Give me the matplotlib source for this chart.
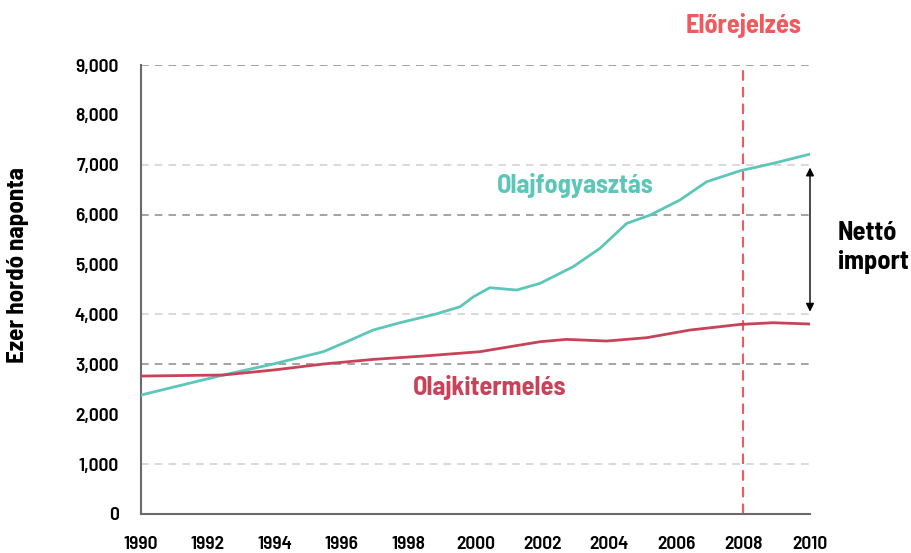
import matplotlib.pyplot as plt

# 数据
years_cons = [1990, 1992.46, 1993.95, 1995.45, 1996.15, 1996.94, 1997.74, 1998.8, 1999.54,
              1999.94, 2000.43, 2001.23, 2001.93, 2002.92, 2003.72, 2004.52, 2005.22,
              2006.11, 2006.91, 2007.91, 2008.9, 2010]
consumption = [2385, 2786, 3006, 3253, 3453, 3687, 3834, 4005, 4155,
               4355, 4536, 4489, 4623, 4957, 5324, 5825, 5992,
               6293, 6660, 6880, 7028, 7214]

years_prod = [1990, 1992.46, 1993.96, 1995.45, 1996.94, 1998.44, 2000.13, 2000.43, 2001.93,
              2002.72, 2003.92, 2005.12, 2006.41, 2007.91, 2008.9, 2010]
production = [2765, 2786, 2886, 3006, 3099, 3166, 3253, 3287, 3453,
              3500, 3467, 3534, 3687, 3800, 3834, 3808]

x_ticks = list(range(1990, 2011, 2))
y_ticks = list(range(0, 9001, 1000))
grid_dark = [3000, 6000, 9000]
grid_light = [1000, 4000, 7000]

forecast_year = 2008

plt.rcParams['font.family'] = ['Barlow Semi Condensed', 'DejaVu Sans']

teal = '#5cc6b8'
crimson = '#c8435a'
red = '#f05a5e'

fig = plt.figure(figsize=(9.12, 5.53), dpi=100)
ax = fig.add_axes([141 / 912, 1 - 514 / 553, (810 - 141) / 912, (514 - 65) / 553])

for g in grid_dark:
    ax.axhline(g, color='#8a8a8a', linestyle=(0, (5, 4)), linewidth=1.1, zorder=1)
for g in grid_light:
    ax.axhline(g, color='#d0d0d0', linestyle=(0, (5, 4)), linewidth=1.1, zorder=1)

ax.plot(years_cons, consumption, color=teal, linewidth=2, zorder=3,
        solid_joinstyle='round')
ax.plot(years_prod, production, color=crimson, linewidth=2, zorder=3,
        solid_joinstyle='round')

ax.axvline(forecast_year, color=red, linestyle=(0, (5, 3)), linewidth=1.5, zorder=2)

ax.set_xlim(1990, 2010)
ax.set_ylim(0, 9000)
ax.set_xticks(x_ticks)
ax.set_yticks(y_ticks)
ax.set_yticklabels([f'{v:,}' for v in y_ticks])
ax.tick_params(length=0, labelsize=14)
ax.tick_params(axis='x', pad=16)
ax.tick_params(axis='y', pad=16)
for lab in ax.get_xticklabels() + ax.get_yticklabels():
    lab.set_fontweight(600)

for s in ['top', 'right']:
    ax.spines[s].set_visible(False)
for s in ['left', 'bottom']:
    ax.spines[s].set_color('#6a6a6a')
    ax.spines[s].set_linewidth(1.5)

ax.set_ylabel('Ezer hordó naponta', fontsize=18, fontweight='bold')
ax.yaxis.set_label_coords(-0.167, 0.555)

ax.text(2002.97, 6590, 'Olajfogyasztás', color=teal, fontsize=19, fontweight='bold',
        ha='center', va='center')
ax.text(2000.43, 2545, 'Olajkitermelés', color=crimson, fontsize=19, fontweight='bold',
        ha='center', va='center')
ax.text(forecast_year, 9800, 'Előrejelzés', color=red, fontsize=19, fontweight='bold',
        ha='center', va='center', clip_on=False)

ax.annotate('', xy=(2010, 4000), xytext=(2010, 7000),
            arrowprops=dict(arrowstyle='<|-|>', color='black', lw=1, mutation_scale=12),
            annotation_clip=False)
ax.text(2010.84, 5340, 'Nettó\nimport', fontsize=19, fontweight='bold', ha='left',
        va='center', linespacing=1.25)

fig.savefig('out.png', dpi=100)
